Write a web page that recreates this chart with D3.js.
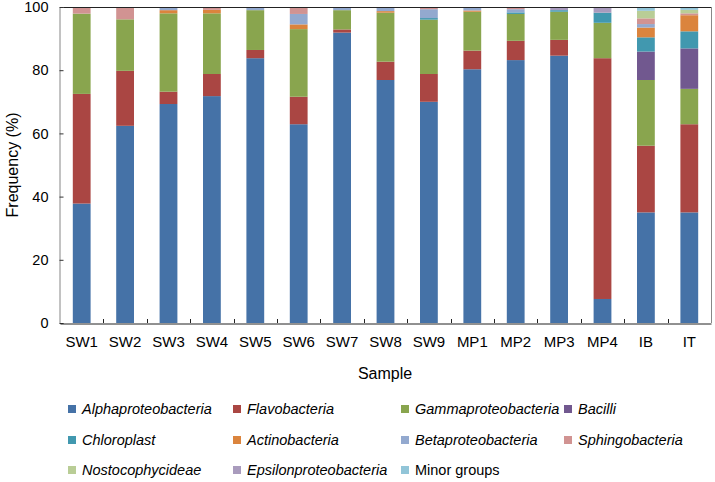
<!DOCTYPE html>
<html><head><meta charset="utf-8">
<script src="https://cdn.jsdelivr.net/npm/d3@7"></script>
<style>body{margin:0;background:#fff}svg{display:block}text{font-family:"Liberation Sans",Arial,sans-serif;fill:#000}</style>
</head><body><svg id="c" width="715" height="482"></svg>
<script>
const samples = ["SW1","SW2","SW3","SW4","SW5","SW6","SW7","SW8","SW9","MP1","MP2","MP3","MP4","IB","IT"];
const groups = ["Alphaproteobacteria","Flavobacteria","Gammaproteobacteria","Bacilli","Chloroplast","Actinobacteria","Betaproteobacteria","Sphingobacteria","Nostocophycideae","Epsilonproteobacteria","Minor groups"];
const colors = ["#4572A7","#AA4643","#89A54E","#71588F","#4198AF","#DB843D","#93A9CF","#D19392","#B9CD96","#A99BBD","#92C5D8"];
const italicGroup = [true,true,true,true,true,true,true,true,true,true,false];
const alphaproteobacteria    = [37.8,62.4,69.3,71.8,83.8,62.9,91.9,76.9,70.0,80.3,83.2,84.6, 7.6,35.0,35.0];
const flavobacteria          = [34.7,17.4, 3.9, 7.0, 2.6, 8.7, 1.0, 5.8, 8.8, 5.9, 6.1, 5.0,76.2,21.1,27.9];
const gammaproteobacteria    = [25.4,16.3,24.8,19.2,12.6,21.4, 6.1,15.5,17.2,12.3, 8.5, 8.9,11.2,20.8,11.2];
const bacilli                = [ 0, 0, 0, 0, 0, 0, 0, 0, 0, 0, 0, 0, 0, 9.0,12.8];
const chloroplast            = [ 0, 0, 0, 0, 0, 0, 0, 0, 0.5, 0, 0.5, 0.5, 3.2, 4.5, 5.4];
const actinobacteria         = [ 0, 0, 1.0, 1.1, 0, 1.5, 0, 0.5, 0, 0.4, 0, 0, 0, 3.1, 5.1];
const betaproteobacteria     = [ 0, 0, 1.0, 0, 1.0, 3.3, 1.0, 1.3, 2.8, 0.9, 1.0, 0, 0, 1.1, 0];
const sphingobacteria        = [ 2.1, 3.9, 0, 0.9, 0, 2.2, 0, 0, 0.7, 0.2, 0.7, 0, 0, 1.8, 0.6];
const nostocophycideae       = [ 0, 0, 0, 0, 0, 0, 0, 0, 0, 0, 0, 0, 0, 2.4, 1.1];
const epsilonproteobacteria  = [ 0, 0, 0, 0, 0, 0, 0, 0, 0, 0, 0, 1.0, 1.8, 0, 0];
const minorGroups            = [ 0, 0, 0, 0, 0, 0, 0, 0, 0, 0, 0, 0, 0, 1.2, 0.9];
const yTicks = [0,20,40,60,80,100];

const series = [alphaproteobacteria,flavobacteria,gammaproteobacteria,bacilli,chloroplast,actinobacteria,betaproteobacteria,sphingobacteria,nostocophycideae,epsilonproteobacteria,minorGroups];
const table = samples.map((s,i)=>{const o={sample:s};groups.forEach((g,j)=>o[g]=series[j][i]);return o;});
const stacked = d3.stack().keys(groups)(table);

const svg = d3.select("#c");
const L=60,R=711,T=7,B=323;
const x = d3.scaleBand().domain(samples).range([L,R]).paddingInner(0.59).paddingOuter(0.295);
const xb = d3.scaleBand().domain(samples).range([L,R]);
const y = d3.scaleLinear().domain([0,100]).range([B,T]);

svg.append("g").selectAll("g").data(stacked).join("g").attr("fill",(d,i)=>colors[i])
  .selectAll("rect").data(d=>d).join("rect")
  .attr("x",d=>x(d.data.sample)).attr("width",x.bandwidth())
  .attr("y",d=>y(d[1])).attr("height",d=>Math.max(0,y(d[0])-y(d[1])));

// frame
svg.append("line").attr("x1",L).attr("x2",R).attr("y1",T+0.5).attr("y2",T+0.5).attr("stroke","#222");
svg.append("line").attr("x1",R+0.5).attr("x2",R+0.5).attr("y1",T).attr("y2",B).attr("stroke","#888");

// y axis
const ya = svg.append("g").attr("transform",`translate(${L-0.5},0)`)
  .call(d3.axisLeft(y).tickValues(yTicks).tickSize(-4).tickPadding(11));
ya.select(".domain").attr("stroke","#868686");
ya.selectAll(".tick line").attr("stroke","#333");
ya.selectAll("text").attr("font-size",14.5).style("font-family","Liberation Sans, Arial, sans-serif");

// x axis
const xa = svg.append("g").attr("transform",`translate(0,${B+0.5})`)
  .call(d3.axisBottom(xb).tickSize(0).tickPadding(13));
xa.select(".domain").attr("stroke","#222");
xa.selectAll("text").attr("font-size",15).style("font-family","Liberation Sans, Arial, sans-serif");
svg.append("g").selectAll("line").data(samples.slice(1)).join("line")
  .attr("x1",d=>Math.round(xb(d))+0.5).attr("x2",d=>Math.round(xb(d))+0.5)
  .attr("y1",B).attr("y2",B-4).attr("stroke","#222");

svg.append("text").attr("transform",`translate(18,${(T+B)/2}) rotate(-90)`).attr("text-anchor","middle")
  .attr("font-size",16).text("Frequency (%)");
svg.append("text").attr("x",385).attr("y",379).attr("text-anchor","middle").attr("font-size",16).text("Sample");

// legend
const colX=[68,233,401,564], rowY=[409,440,470];
const lg = svg.append("g").selectAll("g").data(groups).join("g")
  .attr("transform",(d,i)=>`translate(${colX[i%4]},${rowY[Math.floor(i/4)]})`);
lg.append("rect").attr("x",0).attr("y",-4).attr("width",8).attr("height",8).attr("fill",(d,i)=>colors[i]);
lg.append("text").attr("x",14).attr("y",5).attr("font-size",14.5).attr("font-style",(d,i)=>italicGroup[i]?"italic":"normal").text(d=>d);
</script></body></html>
